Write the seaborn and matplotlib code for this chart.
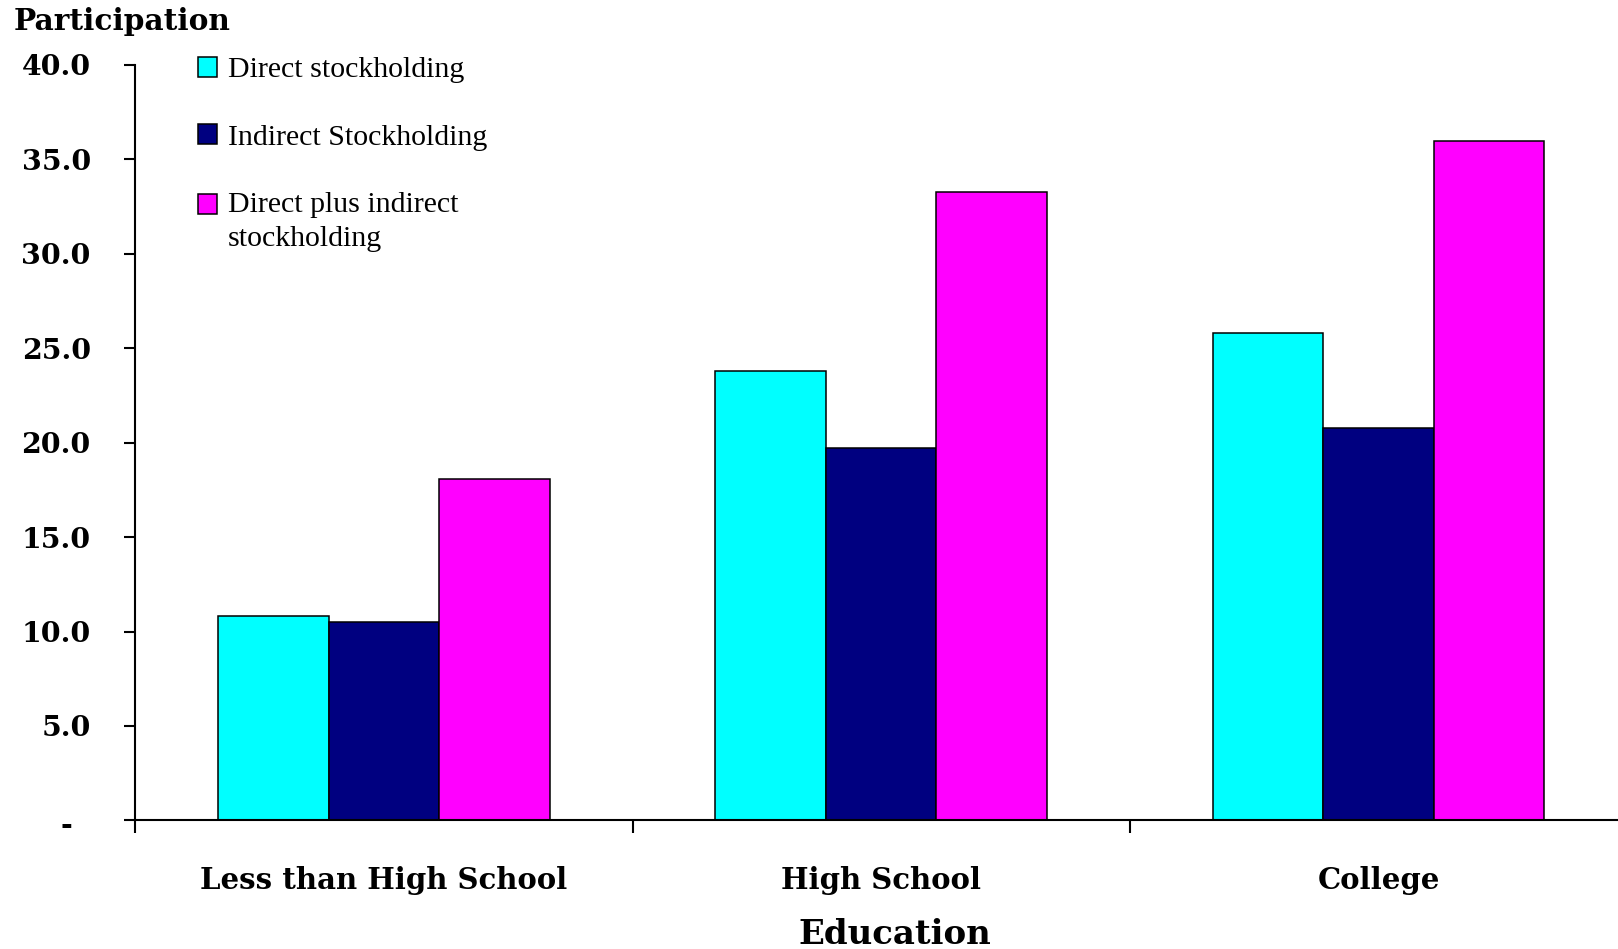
import matplotlib
matplotlib.use("Agg")
import matplotlib.pyplot as plt
from matplotlib.patches import Patch, Rectangle
from matplotlib.legend_handler import HandlerPatch
from matplotlib.transforms import ScaledTranslation
import seaborn as sns
import pandas as pd

# ---- data ----
categories = ["Less than High School", "High School", "College"]
series = ["Direct stockholding", "Indirect Stockholding", "Direct plus indirect\nstockholding"]
direct = [10.8, 23.8, 25.8]
indirect = [10.5, 19.7, 20.8]
combined = [18.1, 33.3, 36.0]
colors = ["#00FFFF", "#000080", "#FF00FF"]
yticks = [0, 5, 10, 15, 20, 25, 30, 35, 40]
ytick_labels = ["-", "5.0", "10.0", "15.0", "20.0", "25.0", "30.0", "35.0", "40.0"]

rows = []
for s, vals in zip(series, [direct, indirect, combined]):
    for c, v in zip(categories, vals):
        rows.append({"Education": c, "series": s, "value": v})
df = pd.DataFrame(rows)

sns.set_style("white")
plt.rcParams["font.family"] = ["DejaVu Serif"]
for k in ["text.color", "axes.labelcolor", "xtick.color", "ytick.color", "axes.edgecolor"]:
    plt.rcParams[k] = "black"

W, H = 1618, 949
fig = plt.figure(figsize=(W / 100, H / 100), dpi=100)
x0, x1 = 135.2, 135.2 + 1492.0
y0, y40 = 820.4, 65.0
ax = fig.add_axes([x0 / W, 1 - y0 / H, (x1 - x0) / W, (y0 - y40) / H])

sns.barplot(data=df, x="Education", y="value", hue="series", hue_order=series,
            order=categories, palette=colors, width=0.667, edgecolor="black",
            linewidth=1.1, ax=ax, legend=False, errorbar=None, saturation=1)

ax.set_xlim(-0.5, 2.5)
ax.set_ylim(0, 40)

for side in ["top", "right"]:
    ax.spines[side].set_visible(False)
for side in ["left", "bottom"]:
    ax.spines[side].set_color("black")
    ax.spines[side].set_linewidth(1.5)

ax.set_yticks(yticks)
ax.set_yticklabels(ytick_labels, fontsize=20.4, fontweight="bold", color="black")
ax.tick_params(axis="y", direction="out", length=8, width=1.5, color="black", pad=24, left=True)

ax.set_xticks([0, 1, 2])
ax.set_xticklabels(categories, fontsize=21, fontweight="bold", color="black")
ax.set_xticks([-0.5, 0.5, 1.5, 2.5], minor=True)
ax.tick_params(axis="x", which="major", length=0, pad=32.5)
ax.tick_params(axis="x", which="minor", direction="out", length=9, width=1.5, color="black", bottom=True)

# shift the zero label "-"
zl = ax.get_yticklabels()[0]
zl.set_transform(zl.get_transform() + ScaledTranslation(-19 / 100, -3 / 100, fig.dpi_scale_trans))

ax.set_xlabel("Education", fontsize=24.5, fontweight="bold", color="black")
ax.xaxis.set_label_coords((895 - x0) / (x1 - x0), -(935 - y0) / (y0 - y40))
ax.xaxis.label.set_va("center")

ax.set_ylabel("Participation", fontsize=21.3, fontweight="bold", rotation=0, color="black")
ax.yaxis.set_label_coords((13.4 - x0) / (x1 - x0), (y0 - 21.5) / (y0 - y40))
ax.yaxis.label.set_ha("left")
ax.yaxis.label.set_va("center")

# legend
handles = [Patch(facecolor=c, edgecolor="black", linewidth=1.1, label=s) for c, s in zip(colors, series)]

def shifted_patch(legend, orig_handle, xdescent, ydescent, width, height, fontsize):
    return Rectangle((-xdescent, -ydescent + 12.6), width, height)

leg = ax.legend(handles=handles, loc="upper left",
                bbox_to_anchor=(198 / W, 1 - 57 / H), bbox_transform=fig.transFigure,
                frameon=False, borderpad=0, borderaxespad=0,
                prop={"family": "Liberation Serif", "size": 21.5},
                handlelength=0.63, handleheight=0.63, handletextpad=0.36,
                labelspacing=1.38,
                handler_map={handles[2]: HandlerPatch(patch_func=shifted_patch)})
for t in leg.get_texts():
    t.set_linespacing(1.38)
    t.set_color("black")

fig.savefig("out.png", dpi=100)
